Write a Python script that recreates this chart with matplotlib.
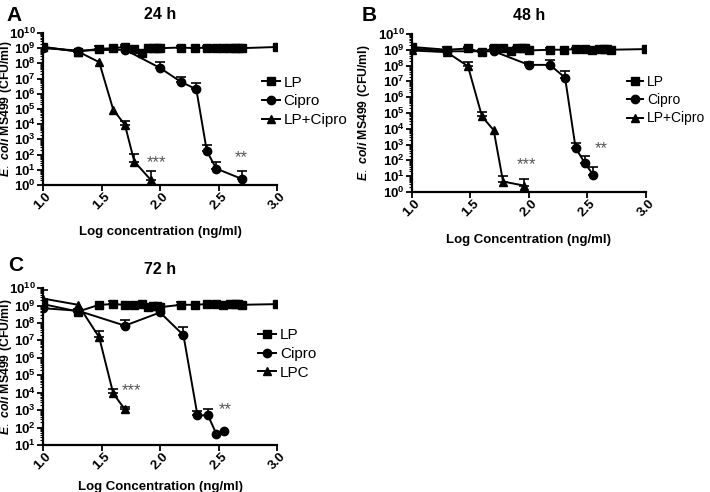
import numpy as np
import matplotlib
matplotlib.use("Agg")
import matplotlib.pyplot as plt
from matplotlib.ticker import LogLocator, FuncFormatter, NullFormatter

plt.rcParams['font.family'] = ['Liberation Sans', 'DejaVu Sans']
plt.rcParams['mathtext.fontset'] = 'custom'
plt.rcParams['mathtext.rm'] = 'Liberation Sans'
plt.rcParams['mathtext.bf'] = 'Liberation Sans:bold'
plt.rcParams['mathtext.it'] = 'Liberation Sans:italic:bold'

# ---- data (log concentration vs CFU/ml) ----
lp_x = [1.0, 1.3, 1.48, 1.6, 1.7, 1.78, 1.85, 1.9, 1.94, 1.97, 2.0,
        2.18, 2.3, 2.4, 2.48, 2.54, 2.6, 2.64, 2.67, 2.7, 3.0]

# 24 h
a_lp_y = [1.2e9, 6e8, 9e8, 1.0e9, 1.2e9, 9e8, 5e8, 1.1e9, 1.1e9, 1.1e9, 1.0e9,
          1.1e9, 1.0e9, 1.1e9, 1.1e9, 1.0e9, 1.1e9, 1.1e9, 1.1e9, 1.0e9, 1.2e9]
a_lp_up = [1.6e9, 8e8, 1.4e9, 0, 1.6e9, 1.3e9, 0, 0, 0, 1.3e9, 0,
           1.3e9, 0, 1.3e9, 1.4e9, 0, 1.3e9, 0, 0, 0, 0]
a_cip_x = [1.0, 1.3, 1.7, 2.0, 2.18, 2.31, 2.4, 2.48, 2.7]
a_cip_y = [1.0e9, 7e8, 8e8, 5e7, 6e6, 2e6, 1.7e2, 1.2e1, 2.5]
a_cip_up = [0, 0, 0, 1.3e8, 1.2e7, 5e6, 4e2, 3.5e1, 8]
a_lpc_x = [1.0, 1.3, 1.48, 1.6, 1.7, 1.78, 1.92]
a_lpc_y = [1.2e9, 6e8, 1.2e8, 9e4, 9e3, 35, 2.2]
a_lpc_up = [0, 0, 0, 0, 1.6e4, 1.1e2, 8]

# 48 h
b_lp_y = [1.5e9, 1.0e9, 1.2e9, 7e8, 1.3e9, 1.2e9, 8e8, 1.2e9, 1.3e9, 1.2e9, 9e8,
          1.0e9, 1.0e9, 1.1e9, 1.1e9, 1.0e9, 1.1e9, 1.1e9, 1.1e9, 1.0e9, 1.1e9]
b_lp_up = [2e9, 1.4e9, 1.6e9, 1.0e9, 1.7e9, 0, 0, 1.5e9, 0, 1.5e9, 1.2e9,
           1.3e9, 0, 1.3e9, 1.4e9, 0, 1.4e9, 1.4e9, 0, 0, 0]
b_cip_x = [1.0, 1.3, 1.7, 2.0, 2.18, 2.31, 2.4, 2.48, 2.55]
b_cip_y = [1.2e9, 8e8, 8e8, 1.1e8, 1.1e8, 1.7e7, 6e2, 65, 12]
b_cip_up = [0, 0, 0, 1.7e8, 2.2e8, 4.5e7, 1.3e3, 1.9e2, 38]
b_lpc_x = [1.0, 1.3, 1.48, 1.6, 1.7, 1.78, 1.96]
b_lpc_y = [9e8, 7e8, 9e7, 6e4, 8e3, 4.5, 2.5]
b_lpc_up = [0, 0, 1.8e8, 1.2e5, 0, 10, 7]

# 72 h
c_lp_y = [1.2e9, 4.5e8, 1.1e9, 1.2e9, 1.1e9, 1.1e9, 1.2e9, 8e8, 9e8, 9e8, 8e8,
          1.1e9, 1.1e9, 1.2e9, 1.2e9, 1.1e9, 1.2e9, 1.2e9, 1.2e9, 1.1e9, 1.2e9]
c_lp_up = [0, 6e8, 0, 1.7e9, 0, 0, 0, 0, 0, 0, 0,
           1.6e9, 0, 0, 1.6e9, 0, 1.6e9, 1.6e9, 0, 0, 0]
c_cip_x = [1.0, 1.3, 1.7, 2.0, 2.2, 2.32, 2.41, 2.48, 2.55]
c_cip_y = [7e8, 5e8, 7e7, 4e8, 2e7, 5e2, 5e2, 45, 65]
c_cip_up = [0, 0, 1.5e8, 0, 5.5e7, 9e2, 1.2e3, 0, 0]
c_lpc_x = [1.0, 1.3, 1.48, 1.6, 1.7]
c_lpc_y = [2.5e9, 1.1e9, 1.5e7, 9e3, 1.1e3]
c_lpc_up = [8e9, 0, 3.5e7, 1.6e4, 1.6e3]

panels = [
    dict(letter="A", title="24 h", xlabel="Log concentration (ng/ml)", third="LP+Cipro",
         rect=[0.0606, 0.624, 0.3296, 0.309], ymin=0, lp=(a_lp_y, a_lp_up),
         cip=(a_cip_x, a_cip_y, a_cip_up), lpc=(a_lpc_x, a_lpc_y, a_lpc_up),
         stars=[(1.97, 10**1.45, "***"), (2.69, 10**1.78, "**")],
         leg=(0.875, 0.55), legfs=11, letter_xy=(0.009, 0.988), ylx=-0.122, xlpad=10),
    dict(letter="B", title="48 h", xlabel="Log Concentration (ng/ml)", third="LP+Cipro",
         rect=[0.580, 0.610, 0.3296, 0.321], ymin=0, lp=(b_lp_y, b_lp_up),
         cip=(b_cip_x, b_cip_y, b_cip_up), lpc=(b_lpc_x, b_lpc_y, b_lpc_up),
         stars=[(1.98, 10**1.71, "***"), (2.62, 10**2.75, "**")],
         leg=(0.865, 0.58), legfs=10, letter_xy=(0.509, 0.988), ylx=-0.172, xlpad=11),
    dict(letter="C", title="72 h", xlabel="Log Concentration (ng/ml)", third="LPC",
         rect=[0.0606, 0.0955, 0.3296, 0.319], ymin=1, lp=(c_lp_y, c_lp_up),
         cip=(c_cip_x, c_cip_y, c_cip_up), lpc=(c_lpc_x, c_lpc_y, c_lpc_up),
         stars=[(1.76, 10**4.1, "***"), (2.56, 10**3.05, "**")],
         leg=(0.86, 0.58), legfs=11, letter_xy=(0.011, 0.48), ylx=-0.122, xlpad=6),
]


def series(ax, x, y, up, marker, label, ms):
    x = np.array(x); y = np.array(y); up = np.array(up)
    ax.plot(x, y, '-', marker=marker, color='black', lw=1.4, ms=ms, label=label, zorder=3)
    m = up > 0
    if m.any():
        ax.errorbar(x[m], y[m], yerr=[np.zeros(m.sum()), up[m] - y[m]], fmt='none',
                    ecolor='black', elinewidth=1.2, capsize=3.5, capthick=1.2, zorder=2)


fig = plt.figure(figsize=(7.1, 4.92), dpi=100)

for p in panels:
    ax = fig.add_axes(p["rect"])
    series(ax, lp_x, p["lp"][0], p["lp"][1], 's', "LP", 5.5)
    series(ax, *p["cip"], 'o', "Cipro", 6)
    series(ax, *p["lpc"], '^', p["third"], 5.5)

    ax.set_yscale('log')
    ax.set_xlim(1.0, 3.0)
    ax.set_ylim(10 ** p["ymin"], 1e10)
    ax.yaxis.set_major_locator(LogLocator(base=10, numticks=20))
    ax.yaxis.set_minor_locator(LogLocator(base=10, subs=np.arange(2, 10), numticks=20))
    ax.yaxis.set_minor_formatter(NullFormatter())
    ax.yaxis.set_major_formatter(FuncFormatter(lambda v, pos: r'$\mathbf{10^{%d}}$' % round(np.log10(v))))
    ax.set_xticks([1.0, 1.5, 2.0, 2.5, 3.0])
    ax.set_xticklabels(["1.0", "1.5", "2.0", "2.5", "3.0"], rotation=45, ha='center',
                       fontweight='bold', fontsize=9.5)
    ax.tick_params(axis='y', which='major', labelsize=9.5, length=4, width=1.3, pad=1)
    ax.tick_params(axis='y', which='minor', length=2, width=0.8)
    ax.tick_params(axis='x', length=4, width=1.3, pad=0)
    for s in ['top', 'right']:
        ax.spines[s].set_visible(False)
    for s in ['left', 'bottom']:
        ax.spines[s].set_linewidth(1.6)

    ax.set_xlabel(p["xlabel"], fontweight='bold', fontsize=9.5, labelpad=p["xlpad"])
    ax.set_ylabel(r"$E.\ coli$ MS499 (CFU/ml)", fontweight='bold', fontsize=8.8)
    ax.yaxis.set_label_coords(p["ylx"], 0.5)
    ax.set_title(p["title"], fontweight='bold', fontsize=11.5, pad=10)

    for sx, sy, st in p["stars"]:
        ax.text(sx, sy, st, color='#555555', fontsize=12, ha='center', va='center')

    ax.legend(loc='center left', bbox_to_anchor=p["leg"], frameon=False, fontsize=p["legfs"],
              handlelength=1.2, labelspacing=0.3, handletextpad=0.25)

    fig.text(p["letter_xy"][0], p["letter_xy"][1], p["letter"], fontsize=15,
             fontweight='bold', va='top', ha='left')

fig.savefig("out.png", dpi=100)
